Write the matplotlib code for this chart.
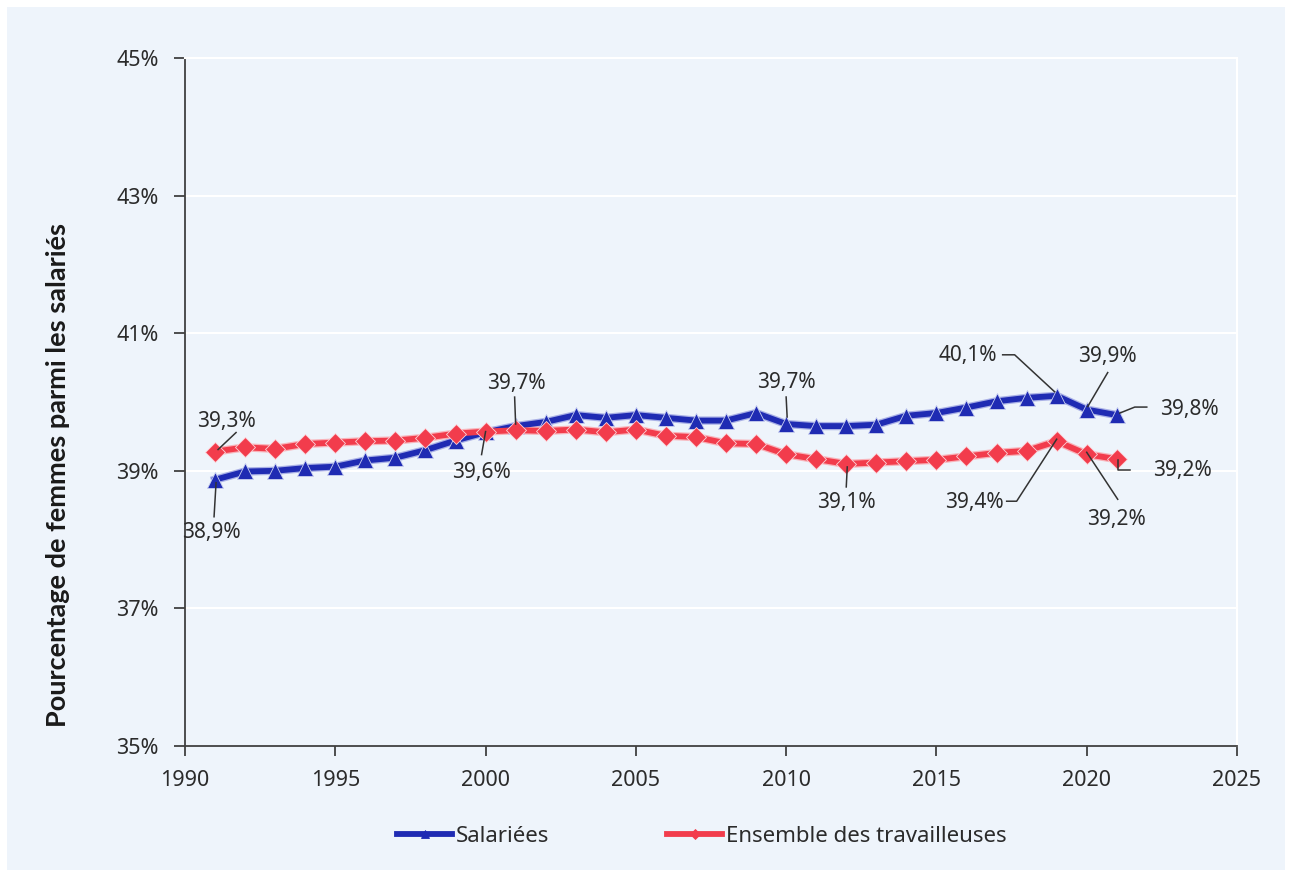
import matplotlib.pyplot as plt
from matplotlib.patches import Rectangle

plt.rcParams['font.family'] = ['Noto Sans', 'DejaVu Sans']

# Données
annees = list(range(1991, 2022))
salariees = [38.87, 38.99, 39.00, 39.04, 39.06, 39.15, 39.19, 39.30, 39.44, 39.56,
             39.65, 39.71, 39.81, 39.77, 39.81, 39.77, 39.73, 39.73, 39.84, 39.68,
             39.65, 39.65, 39.67, 39.80, 39.84, 39.92, 40.01, 40.06, 40.09, 39.89,
             39.81]
ensemble = [39.28, 39.34, 39.32, 39.39, 39.41, 39.43, 39.44, 39.48, 39.54, 39.57,
            39.59, 39.58, 39.60, 39.56, 39.60, 39.51, 39.49, 39.40, 39.39, 39.24,
            39.17, 39.10, 39.12, 39.14, 39.16, 39.21, 39.26, 39.29, 39.43, 39.24,
            39.17]
noms = ['Salariées', 'Ensemble des travailleuses']

# annotations : (série, année, texte, décalage du texte en px, tracé du trait en px)
annotations = [
    (1, 1991, '39,3%', (11, -30), [(21, -19), (3, -2)]),
    (0, 1991, '38,9%', (-4, 53), [(-1, 37), (1, 3)]),
    (0, 2001, '39,7%', (1, -43), [(-1, -29), (0, -2)]),
    (1, 2000, '39,6%', (-4, 41), [(-4, 23), (0, 0)]),
    (0, 2010, '39,7%', (0, -42), [(0, -27), (1, -7)]),
    (1, 2012, '39,1%', (0, 39), [(0, 23), (1, 3)]),
    (0, 2019, '40,1%', (-89, -40), [(-54, -41), (-42, -41), (-2, -4)]),
    (0, 2020, '39,9%', (21, -53), [(21, -37), (1, -3)]),
    (0, 2021, '39,8%', (73, -6), [(30, -8), (18, -8), (3, -2)]),
    (1, 2019, '39,4%', (-82, 61), [(-50, 60), (-40, 60), (0, -2)]),
    (1, 2020, '39,2%', (30, 65), [(31, 45), (0, -2)]),
    (1, 2021, '39,2%', (66, 11), [(13, 11), (1, 11), (1, 1)]),
]

bleu = '#1f2bb3'
rouge = '#f23c4c'
fond = '#eef4fb'
texte = '#2b2b2b'

W, H = 1292, 877
fig = plt.figure(figsize=(W / 100, H / 100), dpi=100, facecolor='white')
fig.patches.append(Rectangle((7 / W, 7 / H), 1 - 14 / W, 1 - 14 / H,
                             transform=fig.transFigure, facecolor=fond,
                             edgecolor='none', zorder=-10))
left, right, bottom, top = 185 / W, 1237 / W, 1 - 746 / H, 1 - 58 / H
ax = fig.add_axes([left, bottom, right - left, top - bottom])
ax.set_facecolor(fond)

# léger halo sous les courbes
ax.plot(annees, salariees, color='#a9b0e6', lw=6, zorder=2)
ax.plot(annees, ensemble, color='#f8b3ba', lw=6, zorder=2)
ax.plot(annees, salariees, color=bleu, lw=4.2, marker='^', ms=11,
        mec='#c9d0f0', mew=0.6, label=noms[0], zorder=3)
ax.plot(annees, ensemble, color=rouge, lw=4.2, marker='D', ms=10,
        mec='#fbd5da', mew=0.6, label=noms[1], zorder=3)

ax.set_xlim(1990, 2025)
ax.set_ylim(35, 45)
ax.set_xticks(range(1990, 2026, 5))
ax.set_yticks(range(35, 46, 2))
ax.set_yticklabels([f'{v}%' for v in range(35, 46, 2)])
ax.tick_params(axis='y', labelsize=15.5, colors='#404040', labelcolor=texte,
               length=8, width=1.3, direction='out', pad=11)
ax.tick_params(axis='x', labelsize=15.5, colors='#404040', labelcolor=texte,
               length=7, width=1.3, direction='out', pad=10)
ax.yaxis.grid(True, color='white', lw=1.5)
ax.set_axisbelow(True)
for s in ['left', 'bottom']:
    ax.spines[s].set_color('#404040')
    ax.spines[s].set_linewidth(1.3)
for s in ['top', 'right']:
    ax.spines[s].set_color('white')
    ax.spines[s].set_linewidth(1.5)

ax.set_ylabel('Pourcentage de femmes parmi les salariés', fontsize=19.5,
              fontweight='bold', family=['Lato', 'DejaVu Sans'], color='#1a1a1a')
ax.yaxis.set_label_coords(-0.109, 0.394)

# conversion px -> unités de données
px_an = (right - left) * W / 35
px_pt = (top - bottom) * H / 10
series = [salariees, ensemble]
for si, an, lab, (tx, ty), trace in annotations:
    x0 = an
    y0 = series[si][annees.index(an)]
    ax.text(x0 + tx / px_an, y0 - ty / px_pt, lab, ha='center', va='center',
            fontsize=15, color=texte, zorder=5)
    xs = [x0 + dx / px_an for dx, dy in trace]
    ys = [y0 - dy / px_pt for dx, dy in trace]
    ax.plot(xs, ys, color='#333333', lw=1.1, zorder=5)

leg = fig.legend(loc='center', bbox_to_anchor=(0.543, 1 - 836 / H), ncol=2,
                 frameon=False, fontsize=16, handlelength=2.5, handletextpad=0.15,
                 columnspacing=5.3, markerscale=0.55, labelcolor=texte)
for h in leg.legend_handles:
    h.set_markeredgecolor(h.get_color())

fig.savefig('out.png', dpi=100, facecolor='white')
